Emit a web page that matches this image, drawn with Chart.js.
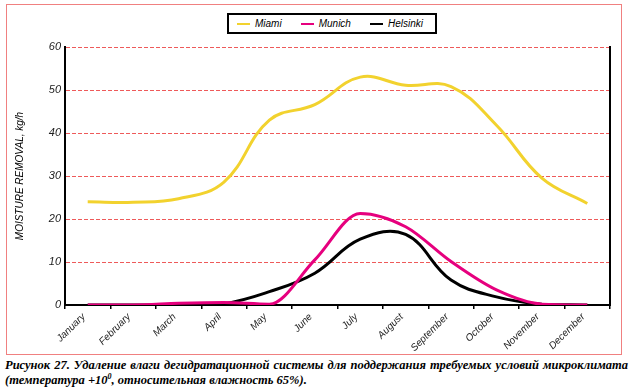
<!DOCTYPE html>
<html>
<head>
<meta charset="utf-8">
<script src="https://cdn.jsdelivr.net/npm/chart.js@4.4.1/dist/chart.umd.min.js"></script>
<style>
  html, body { margin:0; padding:0; background:#fff; width:632px; height:392px; overflow:hidden; }
  #frame { position:absolute; left:6px; top:4px; width:616px; height:351px; border:1.5px solid #F08080; box-sizing:border-box; }
  #chart { position:absolute; left:0; top:0; }
  #legend { position:absolute; left:227px; top:13px; width:210px; height:21px; box-sizing:border-box;
            border:2px solid #000; background:#fff; display:flex; align-items:center; padding-left:8px;
            font:italic 10px "Liberation Sans", Arial, sans-serif; color:#000; }
  #legend .item { display:flex; align-items:center; margin-right:19px; }
  #legend .swatch { width:13px; height:2px; margin-right:5px; }
  #caption { position:absolute; left:5px; top:358px; width:623px;
             font:bold italic 12.5px "Liberation Serif", "Times New Roman", serif; line-height:15px;
             text-align:justify; text-align-last:left; color:#000; }
  #caption sup { font-size:8px; line-height:0; }
</style>
</head>
<body>
<div id="frame"></div>
<canvas id="chart" width="632" height="358"></canvas>
<div id="legend"></div>
<div id="caption">Рисунок 27. Удаление влаги дегидратационной системы для поддержания требуемых условий микроклимата (температура +10<sup>0</sup>, относительная влажность 65%).</div>
<script>
// ---- data ----
const months = ['January','February','March','April','May','June','July','August','September','October','November','December'];
const seriesNames = ['Miami','Munich','Helsinki'];
const seriesColors = ['#F2D22E','#E6007E','#000000'];
const miami    = [24.0, 23.9, 24.7, 28.6, 43.0, 46.6, 53.0, 51.1, 50.8, 41.8, 29.5, 23.6];
const munich   = [0, 0, 0.4, 0.6, 0.2, 10.5, 21.3, 18.2, 10.1, 3.5, 0.2, 0];
const helsinki = [0, 0, 0, 0.3, 3.1, 7.4, 15.3, 16.4, 5.8, 1.9, 0.2, 0];
const yTicks = [0, 10, 20, 30, 40, 50, 60];
const yTitle = 'MOISTURE REMOVAL, kg/h';

const values = [miami, munich, helsinki];

// HTML legend
const legend = document.getElementById('legend');
seriesNames.forEach((n, i) => {
  const it = document.createElement('div'); it.className = 'item';
  const sw = document.createElement('div'); sw.className = 'swatch'; sw.style.background = seriesColors[i];
  const tx = document.createElement('span'); tx.textContent = n;
  it.appendChild(sw); it.appendChild(tx); legend.appendChild(it);
});

const rightBorder = {
  id: 'rightBorder',
  afterDraw(chart) {
    const {ctx, chartArea: {right, top, bottom}} = chart;
    ctx.save();
    ctx.strokeStyle = '#000'; ctx.lineWidth = 2;
    ctx.beginPath(); ctx.moveTo(right, top - 1); ctx.lineTo(right, bottom + 1); ctx.stroke();
    ctx.restore();
  }
};

new Chart(document.getElementById('chart'), {
  type: 'line',
  data: {
    labels: months,
    datasets: seriesNames.map((n, i) => ({
      label: n,
      data: values[i],
      borderColor: seriesColors[i],
      backgroundColor: seriesColors[i],
      borderWidth: 3,
      pointRadius: 0,
      tension: 0.4,
      cubicInterpolationMode: i === 1 ? 'monotone' : 'default',
      fill: false
    }))
  },
  options: {
    responsive: false,
    animation: false,
    devicePixelRatio: 1,
    layout: { padding: { top: 47, right: 22, left: 0, bottom: 0 } },
    plugins: { legend: { display: false }, tooltip: { enabled: false } },
    scales: {
      x: {
        offset: true,
        grid: { offset: true, drawOnChartArea: false, drawTicks: true, tickLength: 4, color: '#000', lineWidth: 1.5 },
        border: { color: '#000', width: 2 },
        ticks: { autoSkip: false, minRotation: 45, maxRotation: 45, padding: 2, labelOffset: -4,
                 color: '#222', font: { family: '"Liberation Sans", Arial, sans-serif', style: 'italic', size: 10 } },
        afterFit(scale) { scale.height = 53; }
      },
      y: {
        min: 0, max: 60,
        afterBuildTicks(scale) { scale.ticks = yTicks.map(v => ({ value: v })); },
        grid: { color: '#EE5A5A', lineWidth: 1, drawTicks: false },
        border: { color: '#000', width: 2, dash: [4, 2] },
        ticks: { padding: 4, color: '#222', font: { family: '"Liberation Sans", Arial, sans-serif', style: 'italic', size: 11 } },
        title: { display: true, text: yTitle, color: '#000', padding: { top: 14, bottom: 0 },
                 font: { family: '"Liberation Sans", Arial, sans-serif', style: 'italic', size: 10 } },
        afterFit(scale) { scale.width = 65; }
      }
    }
  },
  plugins: [rightBorder]
});
</script>
</body>
</html>
